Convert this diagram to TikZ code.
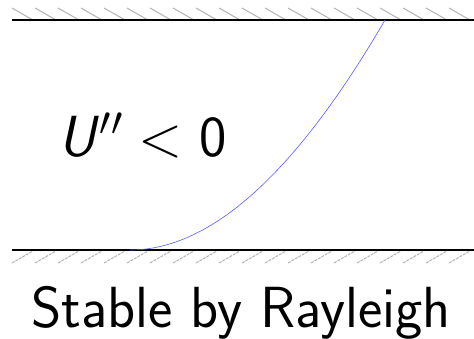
\RequirePackage{fix-cm}
\documentclass[tikz,border=0pt]{standalone}
\usepackage{tikz}
\usetikzlibrary{positioning}
\tikzset{
  wall/.style={line width=1.2pt},
  hatch/.style={gray!60,line width=1pt},
  profile/.style={blue!65,line width=0.6pt},
  bigtext/.style={font=\sffamily\fontsize{58}{64}\selectfont,inner sep=0pt}
}
\begin{document}
\begin{tikzpicture}[x=1pt,y=-1pt]
\useasboundingbox (0,0) rectangle (474,339);
% walls
\coordinate (TL) at (12,20); \coordinate (TR) at (474,20);
\coordinate (BL) at (12,250); \coordinate (BR) at (474,250);
\foreach \x in {12,35,...,470} {
  \draw[hatch] (\x,8) -- ++(21,12);
  \draw[hatch,dash pattern=on 3pt off 1pt] (\x,263) -- ++(21,-12);
}
\draw[wall] (TL) -- (TR);
\draw[wall] (BL) -- (BR);
% velocity profile
\coordinate (P) at (130,250); \coordinate (Q) at (385,20);
\draw[profile] (P) .. controls (211,250) and (296,173) .. (Q);
\node[bigtext,anchor=base west] (crit) at (58,157) {{\itshape U\/}\kern1pt$'' < \mbox{0}$};
\node[bigtext,anchor=base] (verdict) at (241,327) {Stable by Rayleigh};
\end{tikzpicture}
\end{document}
